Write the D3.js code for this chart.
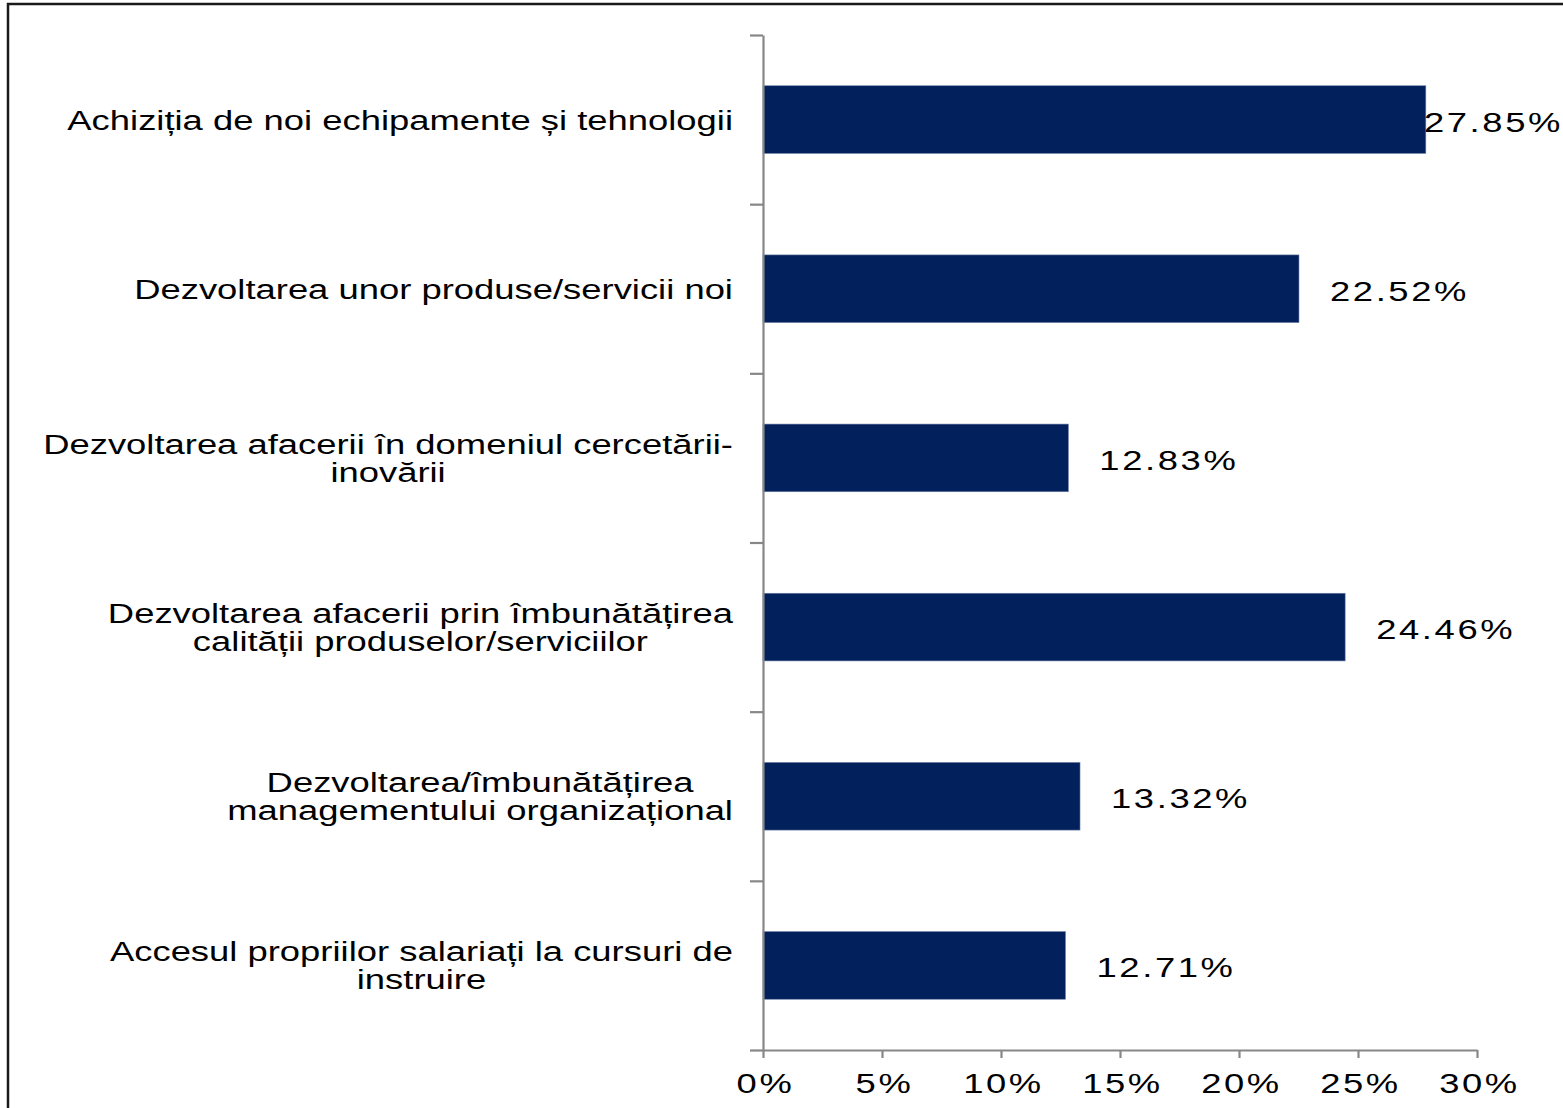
<!DOCTYPE html>
<html>
<head>
<meta charset="utf-8">
<script src="https://cdn.jsdelivr.net/npm/d3@7"></script>
<style>
  body { margin: 0; background: #fff; }
  svg { display: block; }
  text { font-family: "Liberation Sans", Arial, sans-serif; fill: #000; }
</style>
</head>
<body>
<svg id="canvas"></svg>
<script>
// categories, top to bottom (line breaks as in the picture)
let categories = [
  ["Achiziția de noi echipamente și tehnologii"],
  ["Dezvoltarea unor produse/servicii noi"],
  ["Dezvoltarea afacerii în domeniul cercetării-", "inovării"],
  ["Dezvoltarea afacerii prin îmbunătățirea", "calității produselor/serviciilor"],
  ["Dezvoltarea/îmbunătățirea", "managementului  organizațional"],
  ["Accesul propriilor salariați la cursuri de", "instruire"]
]
let values = [27.85, 22.52, 12.83, 24.46, 13.32, 12.71]
let xTicks = [0, 5, 10, 15, 20, 25, 30]

let width = 1563
let height = 1108
let sx = 1.3 // text in the picture is stretched sideways

let canvas = d3.select("#canvas")
  .attr("width", width)
  .attr("height", height)

// frame (only top and left edges are inside the picture)
canvas.append("rect")
  .attr("x", 8).attr("y", 4)
  .attr("width", 1700).attr("height", 1300)
  .attr("fill", "none")
  .attr("stroke", "#1a1a1a")
  .attr("stroke-width", 2.5)

let x = d3.scaleLinear().domain([0, 30]).range([763, 1477])
let y = d3.scaleBand()
  .domain(d3.range(categories.length))
  .range([35, 1050])
  .paddingInner(0.6)
  .paddingOuter(0.3)
let yEdges = d3.scaleLinear().domain([0, categories.length]).range([35, 1050])

// bars
canvas.selectAll("rect.bar")
  .data(values)
  .enter()
  .append("rect")
  .attr("class", "bar")
  .attr("x", x(0))
  .attr("y", (d, i) => y(i))
  .attr("width", d => x(d) - x(0))
  .attr("height", y.bandwidth())
  .attr("fill", "#02205c")
  .attr("stroke", "#6f80a6")
  .attr("stroke-width", 0.6)

// y axis: ticks at band edges
canvas.append("g")
  .attr("transform", "translate(" + x(0) + ",0)")
  .call(d3.axisLeft(yEdges).ticks(categories.length).tickFormat("").tickSizeInner(13).tickSizeOuter(0))

// x axis
let xAxis = canvas.append("g")
  .attr("transform", "translate(0," + 1050 + ")")
  .call(d3.axisBottom(x).tickValues(xTicks).tickFormat(d => d + "%").tickSizeInner(8).tickSizeOuter(0))

xAxis.selectAll("text")
  .attr("y", 0).attr("dy", 0)
  .attr("transform", "translate(2,43) scale(" + sx + ",1)")
  .style("font-size", "28px")
  .style("letter-spacing", "2px")
  .attr("fill", "#000")

canvas.selectAll(".domain, .tick line")
  .attr("stroke", "#878787")
  .attr("stroke-width", 2.2)

// category labels, lines centred on each other, block right-aligned to the axis
let labelRight = 733
categories.forEach((lines, i) => {
  let g = canvas.append("g")
  let cy = y(i) + y.bandwidth() / 2
  let lineH = 28
  let nodes = lines.map((line, k) => {
    let t = g.append("g")
    let txt = t.append("text")
      .attr("text-anchor", "middle")
      .style("font-size", "28px")
      .text(line)
    return { t: t, w: txt.node().getComputedTextLength() * sx, k: k }
  })
  let maxW = d3.max(nodes, n => n.w)
  let cx = labelRight - maxW / 2
  nodes.forEach(n => {
    let by = cy + 10 + (n.k - (lines.length - 1) / 2) * lineH
    n.t.attr("transform", "translate(" + cx + "," + by + ") scale(" + sx + ",1)")
  })
})

// value labels
values.forEach((v, i) => {
  let t = canvas.append("g")
  let txt = t.append("text")
    .style("font-size", "28px")
    .style("letter-spacing", "2px")
    .text(v.toFixed(2) + "%")
  let w = txt.node().getComputedTextLength() * sx
  let lx = Math.min(x(v) + 31, width - w)
  t.attr("transform", "translate(" + lx + "," + (y(i) + y.bandwidth() / 2 + 12) + ") scale(" + sx + ",1)")
})
</script>
</body>
</html>
